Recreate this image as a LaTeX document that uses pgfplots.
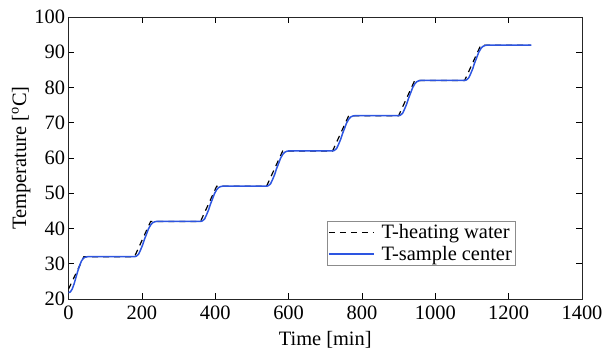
\documentclass[border=0pt]{standalone}
\usepackage{fontspec}
\setmainfont{Liberation Serif}
\usepackage{pgfplots}
\pgfplotsset{compat=1.18}
\definecolor{sampleblue}{RGB}{45,85,225}
\begin{document}
\begin{tikzpicture}
\path (-68.5bp,-56bp) rectangle (543.5bp,299bp);
\begin{axis}[
  at={(0,0)}, anchor=south west,
  scale only axis, width=513.5bp, height=282bp,
  xmin=0, xmax=1400, ymin=20, ymax=100,
  xtick={0,200,...,1400}, ytick={20,30,...,100},
  tick align=inside,
  major tick length=6bp,
  tick style={black, line width=0.6pt},
  axis line style={line width=0.7pt, black!85},
  /pgf/number format/assume math mode=true,
  /pgf/number format/1000 sep={},
  tick label style={font=\fontsize{20.5}{24}\selectfont},
  xticklabel style={yshift=-3bp},
  label style={font=\fontsize{20.5}{24}\selectfont},
  xlabel={Time [min]},
  xlabel style={yshift=-5bp},
  ylabel={Temperature [\textsuperscript{o}C]},
  ylabel style={yshift=-3bp},
  legend style={at={(0.8695,0.2766)}, anchor=north east, draw=black!45,
    font=\fontsize{20.5}{24}\selectfont, inner xsep=1bp, inner ysep=1.5bp, row sep=2bp,
    cells={anchor=west}},
  legend image code/.code={\draw[#1] (0bp,0bp) -- (45bp,0bp); \path (50bp,0bp);},
]
\addplot[black, line width=1.2pt, dash pattern=on 6bp off 5bp] coordinates {
(0,22.8) (42,32) (180,32) (224,42) (360,42) (404,52) (540,52) (584,62)
(720,62) (764,72) (900,72) (944,82) (1080,82) (1124,92) (1260,92)};
\addlegendentry{T-heating water}
\addplot[sampleblue, line width=1.5pt] coordinates {
(0,21.8) (5,22.0) (10,22.8) (15,24.2) (20,26.0) (25,27.8) (30,29.4) (35,30.7) (40,31.5) (45,31.85) (52,32) (180,32)
(185,32.15) (191,32.7) (196,33.8) (202,35.3) (207,36.9) (213,38.5) (218,39.9) (224,41.0) (229,41.6) (235,41.9) (240,42) (360,42)
(365,42.15) (371,42.7) (376,43.8) (382,45.3) (387,46.9) (393,48.5) (398,49.9) (404,51.0) (409,51.6) (415,51.9) (420,52) (540,52)
(545,52.15) (551,52.7) (556,53.8) (562,55.3) (567,56.9) (573,58.5) (578,59.9) (584,61.0) (589,61.6) (595,61.9) (600,62) (720,62)
(725,62.15) (731,62.7) (736,63.8) (742,65.3) (747,66.9) (753,68.5) (758,69.9) (764,71.0) (769,71.6) (775,71.9) (780,72) (900,72)
(905,72.15) (911,72.7) (916,73.8) (922,75.3) (927,76.9) (933,78.5) (938,79.9) (944,81.0) (949,81.6) (955,81.9) (960,82) (1080,82)
(1085,82.15) (1091,82.7) (1096,83.8) (1102,85.3) (1107,86.9) (1113,88.5) (1118,89.9) (1124,91.0) (1129,91.6) (1135,91.9) (1140,92) (1262,92)};
\addlegendentry{T-sample center}
\end{axis}
\end{tikzpicture}
\end{document}
